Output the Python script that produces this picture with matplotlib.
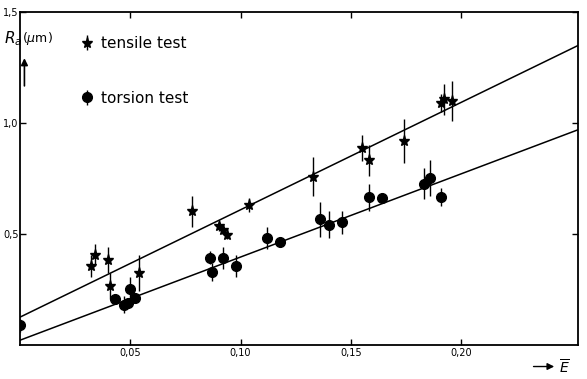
import matplotlib
matplotlib.use('Agg')
import matplotlib.pyplot as plt

# tensile test (strain, Ra in um, half error bar)
tensile_x = [0.032, 0.034, 0.040, 0.041, 0.054, 0.078, 0.090, 0.092, 0.094, 0.104,
             0.133, 0.155, 0.158, 0.174, 0.191, 0.192, 0.196]
tensile_y = [0.354, 0.405, 0.383, 0.265, 0.324, 0.602, 0.535, 0.518, 0.497, 0.630,
             0.759, 0.888, 0.832, 0.918, 1.089, 1.107, 1.101]
tensile_err = [0.05, 0.05, 0.06, 0.06, 0.08, 0.07, 0.02, 0.02, 0.02, 0.03,
               0.09, 0.06, 0.07, 0.10, 0.04, 0.07, 0.09]

# torsion test
torsion_x = [0.000, 0.043, 0.047, 0.049, 0.050, 0.052, 0.086, 0.087, 0.092, 0.098,
             0.112, 0.118, 0.136, 0.140, 0.146, 0.158, 0.164, 0.183, 0.186, 0.191]
torsion_y = [0.088, 0.206, 0.182, 0.187, 0.254, 0.211, 0.393, 0.329, 0.391, 0.356,
             0.482, 0.463, 0.566, 0.542, 0.552, 0.665, 0.663, 0.726, 0.752, 0.665]
torsion_err = [0.03, 0.0, 0.04, 0.0, 0.05, 0.0, 0.03, 0.04, 0.05, 0.05,
               0.05, 0.0, 0.08, 0.06, 0.05, 0.06, 0.0, 0.07, 0.08, 0.04]

# fitted lines
fit_x = [0.0, 0.253]
tensile_fit = [0.125, 1.35]
torsion_fit = [0.021, 0.97]

fig = plt.figure(figsize=(5.87, 3.79), dpi=100)
ax = fig.add_axes([0.034, 0.09, 0.951, 0.878])

ax.plot(fit_x, tensile_fit, color='black', lw=1.1)
ax.plot(fit_x, torsion_fit, color='black', lw=1.1)

ax.errorbar(tensile_x, tensile_y, yerr=tensile_err, fmt='*', color='black',
            ms=8, elinewidth=1.0, capsize=0, label='tensile test')
ax.errorbar(torsion_x, torsion_y, yerr=torsion_err, fmt='o', color='black',
            ms=7, elinewidth=1.0, capsize=0, label='torsion test')

ax.set_xlim(0, 0.253)
ax.set_ylim(0, 1.5)
ax.set_xticks([0.05, 0.10, 0.15, 0.20])
ax.set_xticklabels(['0,05', '0,10', '0,15', '0,20'])
ax.set_yticks([0.5, 1.0, 1.5])
ax.set_yticklabels(['0,5', '1,0', '1,5'])
ax.tick_params(direction='in', length=4, width=1, labelsize=7,
               top=True, right=True, pad=2)
ax.tick_params(axis='y', pad=1)
for s in ax.spines.values():
    s.set_linewidth(1.3)

ax.legend(frameon=False, loc='upper left', bbox_to_anchor=(0.085, 0.97),
          handlelength=0.7, handletextpad=0.6, labelspacing=2.6, fontsize=11)

# axis labels
ax.text(-0.028, 0.92, r'$R_a$', transform=ax.transAxes, fontsize=11, va='center')
ax.text(0.004, 0.92, r'($\mu$m)', transform=ax.transAxes, fontsize=9, va='center')
ax.annotate('', xy=(0.008, 0.87), xytext=(0.008, 0.77), xycoords='axes fraction',
            arrowprops=dict(arrowstyle='-|>', color='black', lw=1.2))
ax.annotate('', xy=(0.962, -0.065), xytext=(0.915, -0.065), xycoords='axes fraction',
            arrowprops=dict(arrowstyle='-|>', color='black', lw=1.0),
            annotation_clip=False)
ax.text(0.966, -0.068, r'$\overline{E}$', transform=ax.transAxes,
        fontsize=10, va='center')

plt.savefig('out.png', dpi=100)
